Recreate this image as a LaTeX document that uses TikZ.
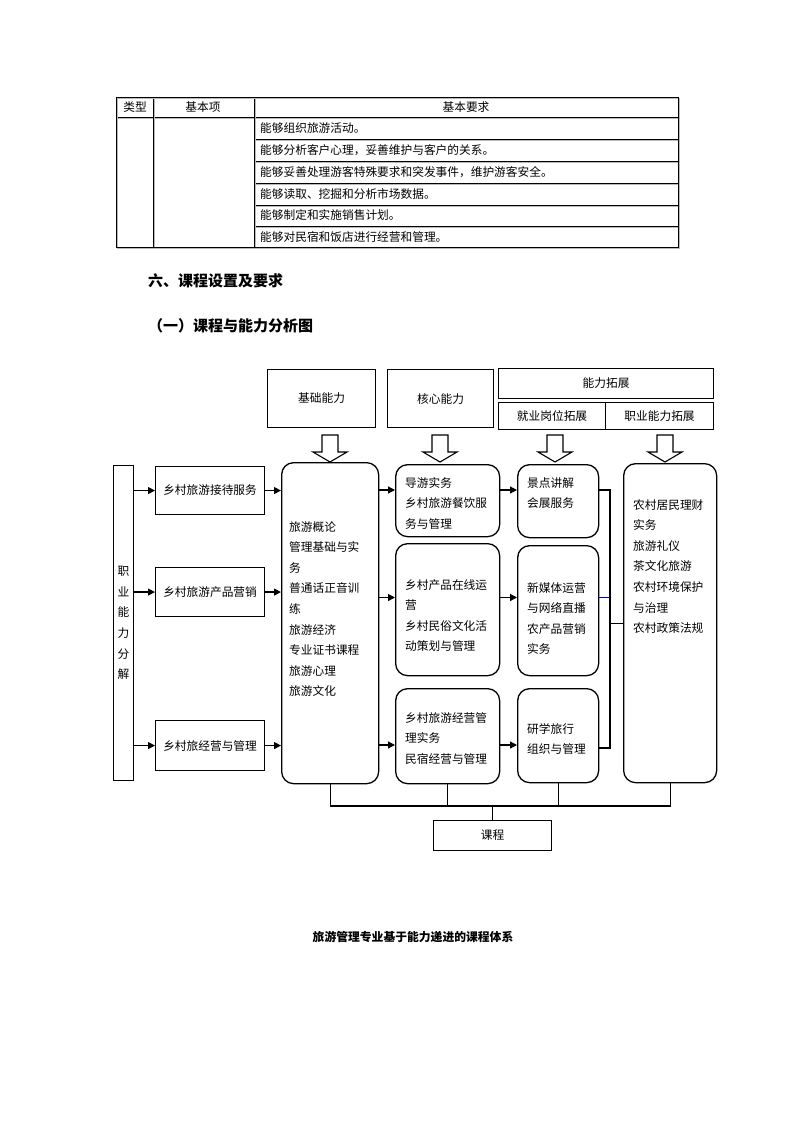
\documentclass[tikz,border=0pt]{standalone}
\usepackage{fontspec}
\setmainfont{Noto Sans CJK SC}
\usetikzlibrary{arrows.meta,calc}
\newcommand\dgfont{\fontsize{11.7}{20.6}\selectfont}
\newcommand\tbfont{\fontsize{11.7}{14}\selectfont}
\newcommand\hdfont{\fontsize{15}{18}\selectfont}
\newcommand\capfont{\fontsize{11.8}{14}\selectfont}
\begin{document}
\begin{tikzpicture}[x=1pt,y=-1pt,
  sbox/.style={draw, line width=1.1pt, inner sep=0pt, anchor=north west, align=center, font=\dgfont},
  rbox/.style={draw, line width=1.3pt, rounded corners=12pt, inner sep=0pt, anchor=north west},
  tlines/.style={anchor=north west, inner sep=0pt, align=left, font=\dgfont},
  conn/.style={line width=1.2pt},
  arr/.style={line width=1.2pt, -{Triangle[length=7pt,width=7pt]}},
  barrow/.style={draw, line width=1.1pt, fill=white},
  tline/.style={line width=0.9pt},
  tshadow/.style={line width=0.9pt, gray!55},
  ttext/.style={font=\tbfont, inner sep=0pt},
  pics/blockarrow/.style={code={\draw[barrow] (-8,0) -- (8,0) -- (8,17) -- (17,17) -- (0,27) -- (-17,17) -- (-8,17) -- cycle;}}
]
\fill[white] (0,0) rectangle (793,1122);
\useasboundingbox (0,0) rectangle (793,1122);

% ---------- table ----------
\foreach \yy in {139,161,183,205,226} {
  \draw[tshadow] (254,\yy+1.5) -- (678,\yy+1.5);
  \draw[tline] (254,\yy) -- (678,\yy);
}
\draw[tshadow] (116,118.5) -- (678,118.5);
\draw[tline] (116,117) -- (678,117);
\foreach \xx in {153,254} {
  \draw[tshadow] (\xx+1.5,97) -- (\xx+1.5,247);
  \draw[tline] (\xx,97) -- (\xx,247);
}
\draw[tshadow] (117.5,98.5) rectangle (679.5,248.5);
\draw[tline] (116,97) rectangle (678,247);
\node[ttext] (th1) at (135,107) {类型};
\node[ttext] (th2) at (203,107) {基本项};
\node[ttext] (th3) at (466,107) {基本要求};
\node[ttext, anchor=west] (tr1) at (260,128) {能够组织旅游活动。};
\node[ttext, anchor=west] (tr2) at (260,150) {能够分析客户心理，妥善维护与客户的关系。};
\node[ttext, anchor=west] (tr3) at (260,172) {能够妥善处理游客特殊要求和突发事件，维护游客安全。};
\node[ttext, anchor=west] (tr4) at (260,194) {能够读取、挖掘和分析市场数据。};
\node[ttext, anchor=west] (tr5) at (260,215) {能够制定和实施销售计划。};
\node[ttext, anchor=west] (tr6) at (260,237) {能够对民宿和饭店进行经营和管理。};

% ---------- headings ----------
\node[anchor=west, inner sep=0pt, font=\hdfont\bfseries] (h1) at (148,281) {六、课程设置及要求};
\node[anchor=west, inner sep=0pt, font=\hdfont\bfseries] (h2) at (148,326) {（一）课程与能力分析图};

% ---------- top boxes ----------
\node[sbox, minimum width=108pt, minimum height=58pt] (jcnl) at (267,369) {基础能力};
\node[sbox, minimum width=106pt, minimum height=58pt] (hxnl) at (387,369) {核心能力};
\node[sbox, minimum width=215pt, minimum height=30pt] (nltz) at (498,368) {能力拓展};
\node[sbox, minimum width=107pt, minimum height=27pt] (jygw) at (498,402) {就业岗位拓展};
\node[sbox, minimum width=108pt, minimum height=27pt] (zynl) at (605,402) {职业能力拓展};

% ---------- left column ----------
\node[sbox, minimum width=20pt, minimum height=315pt] (zyfj) at (113,465) {职\\业\\能\\力\\分\\解};
\node[sbox, minimum width=109pt, minimum height=48pt] (l1) at (155,466) {乡村旅游接待服务};
\node[sbox, minimum width=109pt, minimum height=49pt] (l2) at (155,567) {乡村旅游产品营销};
\node[sbox, minimum width=109pt, minimum height=50pt] (l3) at (155,720) {乡村旅经营与管理};

% ---------- rounded boxes ----------
\node[rbox, minimum width=97pt, minimum height=321pt] (jc) at (281,462) {};
\node[rbox, minimum width=104pt, minimum height=72pt] (c1) at (395,464) {};
\node[rbox, minimum width=104pt, minimum height=132pt] (c2) at (395,543) {};
\node[rbox, minimum width=104pt, minimum height=95pt] (c3) at (395,688) {};
\node[rbox, minimum width=81pt, minimum height=73pt] (j1) at (517,464) {};
\node[rbox, minimum width=81pt, minimum height=130pt] (j2) at (517,545) {};
\node[rbox, minimum width=81pt, minimum height=94pt] (j3) at (517,688) {};
\node[rbox, minimum width=93pt, minimum height=319pt] (zy) at (623,463) {};
\node[sbox, minimum width=118pt, minimum height=30pt] (kc) at (433,820) {课程};

% texts inside rounded boxes
\node[tlines] (jct) at (289,521) {旅游概论\\管理基础与实\\务\\普通话正音训\\练\\旅游经济\\专业证书课程\\旅游心理\\旅游文化};
\node[tlines] (c1t) at (405,477) {导游实务\\乡村旅游餐饮服\\务与管理};
\node[tlines] (c2t) at (405,579) {乡村产品在线运\\营\\乡村民俗文化活\\动策划与管理};
\node[tlines] (c3t) at (405,712) {乡村旅游经营管\\理实务\\民宿经营与管理};
\node[tlines] (j1t) at (527,477) {景点讲解\\会展服务};
\node[tlines] (j2t) at (527,582) {新媒体运营\\与网络直播\\农产品营销\\实务};
\node[tlines] (j3t) at (527,723) {研学旅行\\组织与管理};
\node[tlines] (zyt) at (633,499) {农村居民理财\\实务\\旅游礼仪\\茶文化旅游\\农村环境保护\\与治理\\农村政策法规};

% ---------- block arrows ----------
\pic at (330,435) {blockarrow};
\pic at (440,435) {blockarrow};
\pic at (555,435) {blockarrow};
\pic at (665,435) {blockarrow};

% ---------- connectors ----------
\coordinate (ra) at (0,490);
\coordinate (rb) at (0,597.5);
\coordinate (rc) at (0,745);
\coordinate (rd) at (0,748);
\coordinate (bus) at (610,0);
\coordinate (bot) at (0,806);

\draw[arr] (zyfj.east |- l1.west) -- (l1.west);
\draw[arr] (zyfj.east |- l2.west) -- (l2.west);
\draw[arr] (zyfj.east |- l3.west) -- (l3.west);
\draw[arr] (l1.east) -- (l1.east -| jc.west);
\draw[arr] (l2.east) -- (l2.east -| jc.west);
\draw[arr] (l3.east) -- (l3.east -| jc.west);

\draw[arr] (jc.east |- ra) -- (c1.west |- ra);
\draw[arr] (jc.east |- rb) -- (c2.west |- rb);
\draw[arr] (jc.east |- rc) -- (c3.west |- rc);
\draw[arr] (c1.east |- ra) -- (j1.west |- ra);
\draw[arr] (c2.east |- rb) -- (j2.west |- rb);
\draw[arr] (c3.east |- rc) -- (j3.west |- rc);

\draw[conn] (j1.east |- ra) -- (bus |- ra) -- (bus |- rd) -- (j3.east |- rd);
\draw[conn] (bus |- zy.west) -- (zy.west);
\draw[blue!70!black, line width=0.8pt] (j2.east |- rb) -- (bus |- rb);

\draw[conn] (jc.south) -- (jc.south |- bot) -- (zy.south |- bot) -- (zy.south);
\draw[conn] (c3.south) -- (c3.south |- bot);
\draw[conn] (j3.south) -- (j3.south |- bot);
\draw[conn] (kc.north |- bot) -- (kc.north);

% ---------- caption ----------
\node[font=\capfont\bfseries, inner sep=0pt] (cap) at (413,937) {旅游管理专业基于能力递进的课程体系};
\end{tikzpicture}
\end{document}
